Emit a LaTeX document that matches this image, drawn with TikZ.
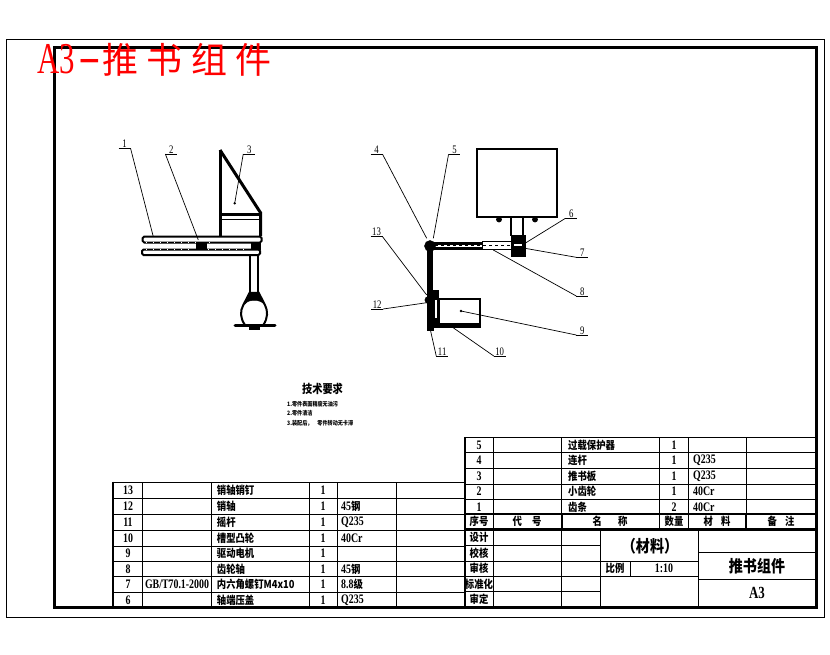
\documentclass[tikz,border=0pt]{standalone}
\usepackage{graphicx}
\usepackage{fontspec}
\setmainfont[FakeStretch=0.76]{Liberation Serif}
\newfontfamily\cjk[FakeStretch=0.85]{Noto Sans CJK SC}
\newfontfamily\redcjk{Noto Sans CJK SC}
\newfontfamily\redserif[FakeStretch=0.7]{Liberation Serif}
\newcommand{\zh}[1]{{\fontsize{11}{11}\selectfont\cjk\bfseries #1}}
\newcommand{\zhbig}[1]{{\fontsize{16.5}{16.5}\selectfont\cjk\bfseries #1}}
\usetikzlibrary{calc}
\tikzset{
    frame/.style={
        draw=black,
        line width=1pt
    },
    innerframe/.style={
        draw=black,
        line width=3pt
    },
    thinrule/.style={
        draw=black,
        line width=1pt
    },
    thickrule/.style={
        draw=black,
        line width=2.4pt
    },
    part/.style={
        draw=black,
        line width=2pt
    },
    heavypart/.style={
        draw=black,
        line width=3pt
    },
    solidpart/.style={
        draw=black,
        fill=black,
        line width=0.5pt
    },
    toothline/.style={
        draw=white,
        line width=0.7pt,
        dash pattern=on 1pt off 6pt
    },
    leader/.style={
        draw=black,
        line width=0.7pt
    },
    leadernum/.style={
        font=\fontsize{11.5}{11.5}\selectfont,
        anchor=south,
        inner sep=0pt,
        minimum height=9pt,
        text depth=0pt
    },
    cell/.style={
        font=\fontsize{13}{13}\selectfont\bfseries,
        inner sep=0pt
    },
    celltext/.style={
        cell,
        anchor=west
    },
    notetext/.style={
        font=\fontsize{6}{6}\selectfont,
        anchor=west,
        inner sep=0pt
    }
}
\begin{document}
\begin{tikzpicture}[x=1pt,y=-1pt]
\useasboundingbox (0,0) rectangle (830,654);
\fill[white] (0,0) rectangle (830,654);

% Sheet borders
\draw[frame] (6,39) rectangle (824,617);
\draw[innerframe] (54,47) rectangle (816,607);

% Red sheet title
\node[text=red, font=\fontsize{44}{44}\selectfont\redserif, anchor=base west, inner sep=0pt] (title) at (37,73) {A3\hspace{4pt}\raisebox{2pt}{\scalebox{2.2}[1]{-}}\hspace{1pt}{\fontsize{36}{36}\selectfont\redcjk 推\hspace{8.5pt}书\hspace{8.5pt}组\hspace{8.5pt}件}};

% Side view: push plate
\draw[heavypart] (220,150) -- (220,236);
\draw[heavypart] (220,150) -- (260.7,213) -- (260.7,236);
\draw[heavypart] (220,214) -- (260.7,214);
\draw[thinrule] (220,219) -- (260.7,219);

% Side view: racks
\draw[part, rounded corners=1.5pt] (146,242.5) -- (142.7,242.5) -- (142.7,236.5) -- (261.5,236.5) -- (261.5,242.5) -- (146,242.5);
\draw[part, rounded corners=1.5pt] (142,249.5) rectangle (260,255);
\draw[toothline] (146,242.5) -- (215,242.5);
\draw[toothline] (146,249.5) -- (190,249.5);
\draw[toothline] (208,249.5) -- (250,249.5);
\fill[solidpart] (196.7,242.7) rectangle (206.7,249.3);
\fill[solidpart] (251.7,242.7) rectangle (260.7,249.3);

% Side view: post and cam
\draw[part] (249.6,255) -- (249.6,293);
\draw[part] (258,255) -- (258,293);
\draw[part] (250,292) -- (243.3,305) .. controls (240,311) and (240,318) .. (245,325);
\draw[part] (258.3,292) -- (265,305) .. controls (268,311) and (268,318) .. (263.3,325);
\fill[solidpart] (250,292) -- (245,304) .. controls (248,299) and (260,299) .. (264,304) -- (258.3,292) -- cycle;
\draw[heavypart, line cap=round] (235,325) -- (275,325);
\fill[solidpart] (249,325) rectangle (259,329);

% Front view: push plate and neck
\draw[part] (476.7,149) rectangle (556.7,216.7);
\draw[part] (510.7,216.7) -- (510.7,236);
\draw[part] (522.7,216.7) -- (522.7,236);
\fill[solidpart] (499,219.5) circle[radius=2.6];
\fill[solidpart] (535,219.5) circle[radius=2.6];

% Front view: link bar and gear shaft
\draw[heavypart] (430,243) -- (482.3,243);
\draw[heavypart] (430,248) -- (482.3,248);
\draw[part, line width=1.4pt] (482.3,241.5) rectangle (511.7,249.5);
\draw[leader, dashed] (435,245.5) -- (525,245.5);
\fill[solidpart] (511.7,235) rectangle (525,256.7);
\fill[white] (514,244) rectangle (522,246);
\fill[solidpart] (430,246) circle[radius=5.5];

% Front view: rocker, cam and motor
\fill[solidpart] (427.7,248) rectangle (432.7,300);
\fill[solidpart] (427.7,291.7) rectangle (433.3,330);
\fill[solidpart] (433,290) rectangle (438,327);
\fill[white] (435.2,300) rectangle (436.5,318);
\fill[solidpart] (428.5,300) circle[radius=3.6];
\draw[part] (438.8,299.3) rectangle (480,326);
\fill[solidpart] (438.3,323) rectangle (480.5,327);

% Leader lines with numbers
\foreach \num/\ux/\uy/\side/\tx/\ty in {
    1/124.6/148.3/east/153.3/236.7,
    2/171.3/154/west/198.3/240,
    3/249.2/154/west/234.7/203.3,
    4/376.6/154.3/east/426.7/238.3,
    5/454.5/154.3/west/433.3/238.3,
    6/571.4/218.3/west/525/243.3,
    7/582.2/257.3/west/525/248.3,
    8/582.2/296/west/493.3/250,
    9/582.2/335/west/461/311,
    10/499.7/356/west/451.7/326.7,
    11/442.2/356/west/430/328.3,
    12/377.2/309/east/426.7/302.7,
    13/376.6/236.7/east/426.7/295}{
    \node[leadernum, minimum width=11.5pt] (n\num) at (\ux,\uy) {\num};
    \draw[leader] (n\num.south west) -- (n\num.south east);
    \draw[leader] (n\num.south \side) -- (\tx,\ty);
}
\fill[black] (234.7,203.3) circle[radius=1.3];
\fill[black] (461,311) circle[radius=1.3];

% Technical notes
\node[font=\fontsize{12}{12}\selectfont\cjk\bfseries, inner sep=0pt] (notehead) at (322.5,388.5) {技术要求};
\node[notetext] (note1) at (287,404) {{\cjk\bfseries 1.零件表面精度无油污}};
\node[notetext] (note2) at (287,413) {{\cjk\bfseries 2.零件清洁}};
\node[notetext] (note3) at (287,423) {{\cjk\bfseries 3.装配后，\hspace{5pt}零件转动无卡滞}};

% Lower parts list
\foreach \yy in {482,498.3,514.3,530.7,546,561,576.7,592.3}
    \draw[thinrule] (113,\yy) -- (465,\yy);
\foreach \xx in {142.7,211,309,337.3,396}
    \draw[thinrule] (\xx,482) -- (\xx,607);
\draw[thickrule] (113,481.5) -- (113,607);
\foreach \rowy/\no/\code/\name/\qty/\mat in {
    490/13//销轴销钉/1/,
    506/12//销轴/1/45{\zh{钢}},
    522.5/11//摇杆/1/Q235,
    538.5/10//槽型凸轮/1/40Cr,
    553.5/9//驱动电机/1/,
    569/8//齿轮轴/1/45{\zh{钢}},
    584.5/7/{GB/T70.1-2000}/内六角螺钉M4x10/1/8.8{\zh{级}},
    600/6//轴端压盖/1/Q235}{
    \node[cell] (lno\no) at (128,\rowy) {\no};
    \node[cell] (lcode\no) at (177,\rowy) {\code};
    \node[celltext] (lname\no) at (216.7,\rowy) {\zh{\name}};
    \node[cell] (lqty\no) at (323,\rowy) {\qty};
    \node[celltext] (lmat\no) at (341,\rowy) {\mat};
}

% Upper parts list
\draw[thinrule] (465,437.3) -- (815,437.3);
\foreach \yy in {452.7,468.3,484,499.3}
    \draw[thinrule] (465,\yy) -- (815,\yy);
\foreach \xx in {493.3,561.7,659.3,688.3,746}
    \draw[thinrule] (\xx,437.3) -- (\xx,514);
\draw[thickrule] (465,437) -- (465,607);
\foreach \rowy/\no/\name/\qty/\mat in {
    445/5/过载保护器/1/,
    460.5/4/连杆/1/Q235,
    476/3/推书板/1/Q235,
    491.5/2/小齿轮/1/40Cr,
    507/1/齿条/2/40Cr}{
    \node[cell] (rno\no) at (479,\rowy) {\no};
    \node[celltext] (rname\no) at (568,\rowy) {\zh{\name}};
    \node[cell] (rqty\no) at (674,\rowy) {\qty};
    \node[celltext] (rmat\no) at (693,\rowy) {\mat};
}

% Header row
\draw[thickrule] (465,514) -- (816,514);
\draw[thickrule] (465,529.3) -- (816,529.3);
\foreach \xx in {493.3,561.7,659.3,688.3,746}
    \draw[thickrule, line width=1.6pt] (\xx,514) -- (\xx,529.3);
\foreach \xpos/\head/\key in {
    479/序号/a,
    527/代\hspace{10pt}号/b,
    610/名\hspace{16pt}称/c,
    674/数量/d,
    717/材\hspace{8pt}料/e,
    781/备\hspace{8pt}注/f}
    \node[cell] (head\key) at (\xpos,521.7) {\zh{\head}};

% Title block
\foreach \yy in {545,561,576,591.7}
    \draw[thinrule] (465,\yy) -- (600.7,\yy);
\draw[thinrule] (493.3,529.3) -- (493.3,607);
\draw[thinrule] (561.7,529.3) -- (561.7,607);
\draw[thinrule] (600.7,529.3) -- (600.7,607);
\draw[thinrule] (698.3,529.3) -- (698.3,607);
\draw[thinrule] (600.7,561) -- (698.3,561);
\draw[thinrule] (600.7,576) -- (698.3,576);
\draw[thinrule] (630,561) -- (630,576);
\draw[thinrule] (698.3,552.3) -- (815,552.3);
\draw[thinrule] (698.3,579.3) -- (815,579.3);
\foreach \rowy/\sign/\key in {537/设计/a,553/校核/b,568.5/审核/c,584/标准化/d,599.5/审定/e}
    \node[cell] (sign\key) at (479,\rowy) {\zh{\sign}};
\node[cell] (material) at (650,546) {\zhbig{（材料）}};
\node[cell] (ratio) at (615,568.5) {\zh{比例}};
\node[cell] (ratioval) at (664,568.5) {1:10};
\node[cell] (drawname) at (757,566) {\zhbig{推书组件}};
\node[cell, font=\fontsize{17}{17}\selectfont\bfseries] (drawno) at (757,593) {A3};

\end{tikzpicture}
\end{document}
